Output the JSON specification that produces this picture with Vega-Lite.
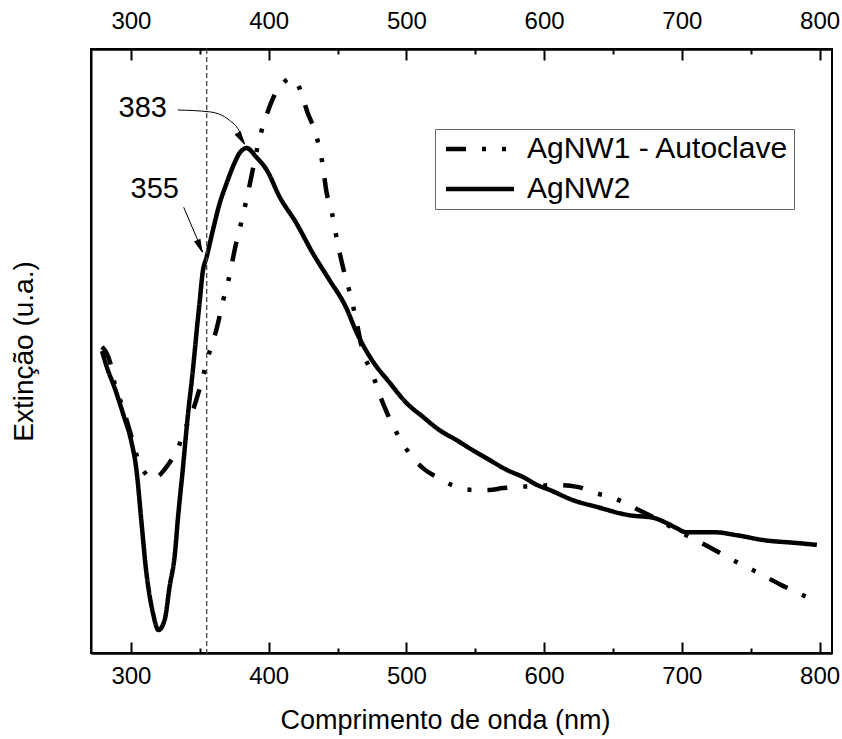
{
  "$schema": "https://vega.github.io/schema/vega-lite/v6.json",
  "width": 741,
  "height": 604,
  "autosize": "none",
  "padding": {"left": 91, "top": 49, "right": 10, "bottom": 86},
  "config": {
    "font": "Liberation Sans",
    "view": {"stroke": "black", "strokeWidth": 2}
  },
  "datasets": {
    "curves": [
      {"wl": 279, "ext": 0.507, "series": "AgNW1 - Autoclave"},
      {"wl": 285, "ext": 0.480, "series": "AgNW1 - Autoclave"},
      {"wl": 288, "ext": 0.447, "series": "AgNW1 - Autoclave"},
      {"wl": 294, "ext": 0.407, "series": "AgNW1 - Autoclave"},
      {"wl": 301, "ext": 0.353, "series": "AgNW1 - Autoclave"},
      {"wl": 306, "ext": 0.315, "series": "AgNW1 - Autoclave"},
      {"wl": 311, "ext": 0.296, "series": "AgNW1 - Autoclave"},
      {"wl": 315, "ext": 0.288, "series": "AgNW1 - Autoclave"},
      {"wl": 320, "ext": 0.293, "series": "AgNW1 - Autoclave"},
      {"wl": 328, "ext": 0.315, "series": "AgNW1 - Autoclave"},
      {"wl": 333, "ext": 0.333, "series": "AgNW1 - Autoclave"},
      {"wl": 339, "ext": 0.369, "series": "AgNW1 - Autoclave"},
      {"wl": 345, "ext": 0.402, "series": "AgNW1 - Autoclave"},
      {"wl": 351, "ext": 0.447, "series": "AgNW1 - Autoclave"},
      {"wl": 357, "ext": 0.498, "series": "AgNW1 - Autoclave"},
      {"wl": 362, "ext": 0.535, "series": "AgNW1 - Autoclave"},
      {"wl": 367, "ext": 0.584, "series": "AgNW1 - Autoclave"},
      {"wl": 372, "ext": 0.629, "series": "AgNW1 - Autoclave"},
      {"wl": 375, "ext": 0.664, "series": "AgNW1 - Autoclave"},
      {"wl": 380, "ext": 0.712, "series": "AgNW1 - Autoclave"},
      {"wl": 385, "ext": 0.762, "series": "AgNW1 - Autoclave"},
      {"wl": 388, "ext": 0.795, "series": "AgNW1 - Autoclave"},
      {"wl": 393, "ext": 0.849, "series": "AgNW1 - Autoclave"},
      {"wl": 399, "ext": 0.894, "series": "AgNW1 - Autoclave"},
      {"wl": 405, "ext": 0.927, "series": "AgNW1 - Autoclave"},
      {"wl": 411, "ext": 0.945, "series": "AgNW1 - Autoclave"},
      {"wl": 417, "ext": 0.952, "series": "AgNW1 - Autoclave"},
      {"wl": 423, "ext": 0.932, "series": "AgNW1 - Autoclave"},
      {"wl": 428, "ext": 0.896, "series": "AgNW1 - Autoclave"},
      {"wl": 434, "ext": 0.861, "series": "AgNW1 - Autoclave"},
      {"wl": 439, "ext": 0.811, "series": "AgNW1 - Autoclave"},
      {"wl": 442, "ext": 0.763, "series": "AgNW1 - Autoclave"},
      {"wl": 446, "ext": 0.728, "series": "AgNW1 - Autoclave"},
      {"wl": 450, "ext": 0.679, "series": "AgNW1 - Autoclave"},
      {"wl": 455, "ext": 0.629, "series": "AgNW1 - Autoclave"},
      {"wl": 459, "ext": 0.596, "series": "AgNW1 - Autoclave"},
      {"wl": 464, "ext": 0.546, "series": "AgNW1 - Autoclave"},
      {"wl": 468, "ext": 0.502, "series": "AgNW1 - Autoclave"},
      {"wl": 475, "ext": 0.464, "series": "AgNW1 - Autoclave"},
      {"wl": 482, "ext": 0.419, "series": "AgNW1 - Autoclave"},
      {"wl": 491, "ext": 0.373, "series": "AgNW1 - Autoclave"},
      {"wl": 499, "ext": 0.341, "series": "AgNW1 - Autoclave"},
      {"wl": 512, "ext": 0.306, "series": "AgNW1 - Autoclave"},
      {"wl": 523, "ext": 0.290, "series": "AgNW1 - Autoclave"},
      {"wl": 533, "ext": 0.278, "series": "AgNW1 - Autoclave"},
      {"wl": 548, "ext": 0.270, "series": "AgNW1 - Autoclave"},
      {"wl": 560, "ext": 0.270, "series": "AgNW1 - Autoclave"},
      {"wl": 570, "ext": 0.273, "series": "AgNW1 - Autoclave"},
      {"wl": 580, "ext": 0.275, "series": "AgNW1 - Autoclave"},
      {"wl": 592, "ext": 0.276, "series": "AgNW1 - Autoclave"},
      {"wl": 608, "ext": 0.278, "series": "AgNW1 - Autoclave"},
      {"wl": 624, "ext": 0.275, "series": "AgNW1 - Autoclave"},
      {"wl": 637, "ext": 0.265, "series": "AgNW1 - Autoclave"},
      {"wl": 650, "ext": 0.257, "series": "AgNW1 - Autoclave"},
      {"wl": 664, "ext": 0.242, "series": "AgNW1 - Autoclave"},
      {"wl": 679, "ext": 0.225, "series": "AgNW1 - Autoclave"},
      {"wl": 699, "ext": 0.200, "series": "AgNW1 - Autoclave"},
      {"wl": 717, "ext": 0.179, "series": "AgNW1 - Autoclave"},
      {"wl": 737, "ext": 0.154, "series": "AgNW1 - Autoclave"},
      {"wl": 757, "ext": 0.131, "series": "AgNW1 - Autoclave"},
      {"wl": 771, "ext": 0.114, "series": "AgNW1 - Autoclave"},
      {"wl": 792, "ext": 0.091, "series": "AgNW1 - Autoclave"},
      {"wl": 799, "ext": 0.083, "series": "AgNW1 - Autoclave"},
      {"wl": 279, "ext": 0.500, "series": "AgNW2"},
      {"wl": 283, "ext": 0.470, "series": "AgNW2"},
      {"wl": 288, "ext": 0.440, "series": "AgNW2"},
      {"wl": 295, "ext": 0.391, "series": "AgNW2"},
      {"wl": 300, "ext": 0.353, "series": "AgNW2"},
      {"wl": 304, "ext": 0.303, "series": "AgNW2"},
      {"wl": 307.5, "ext": 0.220, "series": "AgNW2"},
      {"wl": 311, "ext": 0.137, "series": "AgNW2"},
      {"wl": 316, "ext": 0.066, "series": "AgNW2"},
      {"wl": 320, "ext": 0.038, "series": "AgNW2"},
      {"wl": 324.5, "ext": 0.055, "series": "AgNW2"},
      {"wl": 328, "ext": 0.109, "series": "AgNW2"},
      {"wl": 332, "ext": 0.166, "series": "AgNW2"},
      {"wl": 334, "ext": 0.220, "series": "AgNW2"},
      {"wl": 337.6, "ext": 0.303, "series": "AgNW2"},
      {"wl": 341, "ext": 0.386, "series": "AgNW2"},
      {"wl": 345, "ext": 0.469, "series": "AgNW2"},
      {"wl": 348.5, "ext": 0.551, "series": "AgNW2"},
      {"wl": 350, "ext": 0.584, "series": "AgNW2"},
      {"wl": 352, "ext": 0.629, "series": "AgNW2"},
      {"wl": 355, "ext": 0.656, "series": "AgNW2"},
      {"wl": 359.5, "ext": 0.700, "series": "AgNW2"},
      {"wl": 364.5, "ext": 0.745, "series": "AgNW2"},
      {"wl": 369.5, "ext": 0.778, "series": "AgNW2"},
      {"wl": 374, "ext": 0.805, "series": "AgNW2"},
      {"wl": 379, "ext": 0.828, "series": "AgNW2"},
      {"wl": 384, "ext": 0.836, "series": "AgNW2"},
      {"wl": 391, "ext": 0.821, "series": "AgNW2"},
      {"wl": 398.5, "ext": 0.800, "series": "AgNW2"},
      {"wl": 408, "ext": 0.755, "series": "AgNW2"},
      {"wl": 420, "ext": 0.712, "series": "AgNW2"},
      {"wl": 432, "ext": 0.662, "series": "AgNW2"},
      {"wl": 444, "ext": 0.618, "series": "AgNW2"},
      {"wl": 456, "ext": 0.573, "series": "AgNW2"},
      {"wl": 464, "ext": 0.530, "series": "AgNW2"},
      {"wl": 475, "ext": 0.485, "series": "AgNW2"},
      {"wl": 488, "ext": 0.447, "series": "AgNW2"},
      {"wl": 500, "ext": 0.414, "series": "AgNW2"},
      {"wl": 512, "ext": 0.391, "series": "AgNW2"},
      {"wl": 524, "ext": 0.369, "series": "AgNW2"},
      {"wl": 536, "ext": 0.353, "series": "AgNW2"},
      {"wl": 548, "ext": 0.336, "series": "AgNW2"},
      {"wl": 560, "ext": 0.320, "series": "AgNW2"},
      {"wl": 573, "ext": 0.303, "series": "AgNW2"},
      {"wl": 585, "ext": 0.291, "series": "AgNW2"},
      {"wl": 595, "ext": 0.278, "series": "AgNW2"},
      {"wl": 604, "ext": 0.270, "series": "AgNW2"},
      {"wl": 621, "ext": 0.253, "series": "AgNW2"},
      {"wl": 638, "ext": 0.242, "series": "AgNW2"},
      {"wl": 662, "ext": 0.228, "series": "AgNW2"},
      {"wl": 679, "ext": 0.224, "series": "AgNW2"},
      {"wl": 689, "ext": 0.215, "series": "AgNW2"},
      {"wl": 696, "ext": 0.207, "series": "AgNW2"},
      {"wl": 703, "ext": 0.200, "series": "AgNW2"},
      {"wl": 723, "ext": 0.200, "series": "AgNW2"},
      {"wl": 740, "ext": 0.195, "series": "AgNW2"},
      {"wl": 759, "ext": 0.187, "series": "AgNW2"},
      {"wl": 784, "ext": 0.182, "series": "AgNW2"},
      {"wl": 798, "ext": 0.179, "series": "AgNW2"}
    ],
    "marker": [{"wl": 355}],
    "arrows": [
      {"arrow": "a383", "step": 1, "wl": 334, "ext": 0.899},
      {"arrow": "a383", "step": 2, "wl": 357, "ext": 0.896},
      {"arrow": "a383", "step": 3, "wl": 371.5, "ext": 0.882},
      {"arrow": "a383", "step": 4, "wl": 378.5, "ext": 0.865},
      {"arrow": "a383", "step": 5, "wl": 382.6, "ext": 0.843},
      {"arrow": "a355", "step": 1, "wl": 338.3, "ext": 0.738},
      {"arrow": "a355", "step": 2, "wl": 352.1, "ext": 0.664}
    ],
    "tip383": [{"wl": 382.6, "ext": 0.841}],
    "tip355": [{"wl": 352.1, "ext": 0.662}],
    "labels": [
      {"label": "383", "wl": 308.6, "ext": 0.902},
      {"label": "355", "wl": 317.3, "ext": 0.768}
    ]
  },
  "layer": [
    {
      "data": {"name": "curves"},
      "mark": {"type": "line", "strokeWidth": 4.5, "color": "black", "strokeCap": "butt", "interpolate": "monotone"},
      "encoding": {
        "x": {
          "field": "wl", "type": "quantitative",
          "scale": {"domain": [271, 809], "nice": false, "zero": false},
          "axis": {
            "orient": "bottom",
            "grid": false,
            "domainColor": "black",
            "domainWidth": 2,
            "title": "Comprimento de onda (nm)",
            "titleFontSize": 27,
            "titleFontWeight": "normal",
            "titleColor": "black",
            "titlePadding": 19,
            "titleX": 354,
            "values": [300, 400, 500, 600, 700, 800],
            "labelFontSize": 24,
            "labelColor": "black",
            "labelPadding": 22,
            "tickColor": "black",
            "tickWidth": 2,
            "tickSize": -11
          }
        },
        "y": {
          "field": "ext", "type": "quantitative",
          "scale": {"domain": [0, 1], "nice": false},
          "axis": {
            "title": "Extinção (u.a.)",
            "titleFontSize": 28,
            "titleFontWeight": "normal",
            "titleColor": "black",
            "titlePadding": 53,
            "grid": false,
            "domainColor": "black",
            "domainWidth": 2,
            "labels": false,
            "ticks": false
          }
        },
        "strokeDash": {
          "field": "series", "type": "nominal",
          "scale": {"domain": ["AgNW1 - Autoclave", "AgNW2"], "range": [[20, 16, 4, 16, 4, 16], [1, 0]]},
          "legend": {
            "title": null,
            "orient": "none",
            "legendX": 344,
            "legendY": 80,
            "symbolType": "M-4,0L4,0",
            "symbolSize": 289,
            "symbolOffset": 25,
            "symbolStrokeWidth": 4.5,
            "symbolStrokeColor": "black",
            "symbolFillColor": "transparent",
            "labelFontSize": 30,
            "labelColor": "black",
            "labelOffset": 32,
            "labelLimit": 0,
            "rowPadding": 10,
            "padding": 5,
            "strokeColor": "#666",
            "fillColor": "white"
          }
        },
        "order": {"field": "wl", "type": "quantitative"}
      }
    },
    {
      "data": {"name": "marker"},
      "mark": {"type": "rule", "color": "#444", "strokeWidth": 1.3, "strokeDash": [5, 3]},
      "encoding": {
        "x": {
          "field": "wl", "type": "quantitative",
          "axis": {
            "orient": "top",
            "grid": false,
            "domainColor": "black",
            "domainWidth": 2,
            "title": null,
            "values": [300, 400, 500, 600, 700, 800],
            "labelFontSize": 24,
            "labelColor": "black",
            "labelPadding": 27,
            "tickColor": "black",
            "tickWidth": 2,
            "tickSize": -11
          }
        }
      }
    },
    {
      "data": {"name": "arrows"},
      "mark": {"type": "line", "color": "black", "strokeWidth": 1, "interpolate": "monotone"},
      "encoding": {
        "x": {
          "field": "wl", "type": "quantitative",
          "axis": {"orient": "bottom", "grid": false, "domainColor": "black", "domainWidth": 2, "title": null, "labels": false, "tickColor": "black", "values": [350, 450, 550, 650, 750], "tickWidth": 2, "tickSize": -5}
        },
        "y": {"field": "ext", "type": "quantitative", "axis": null},
        "detail": {"field": "arrow"},
        "order": {"field": "step", "type": "quantitative"}
      }
    },
    {
      "data": {"name": "tip383"},
      "mark": {"type": "point", "shape": "M0,0L-0.25,-1L0.25,-1Z", "size": 800, "filled": true, "color": "black", "opacity": 1, "angle": 330},
      "encoding": {
        "x": {
          "field": "wl", "type": "quantitative",
          "axis": {"orient": "top", "grid": false, "domainColor": "black", "domainWidth": 2, "title": null, "labels": false, "tickColor": "black", "values": [350, 450, 550, 650, 750], "tickWidth": 2, "tickSize": -5}
        },
        "y": {"field": "ext", "type": "quantitative", "axis": null}
      }
    },
    {
      "data": {"name": "tip355"},
      "mark": {"type": "point", "shape": "M0,0L-0.25,-1L0.25,-1Z", "size": 800, "filled": true, "color": "black", "opacity": 1, "angle": 337},
      "encoding": {
        "x": {"field": "wl", "type": "quantitative", "axis": null},
        "y": {"field": "ext", "type": "quantitative", "axis": null}
      }
    },
    {
      "data": {"name": "labels"},
      "mark": {"type": "text", "fontSize": 29, "color": "black", "align": "center", "baseline": "middle"},
      "encoding": {
        "x": {"field": "wl", "type": "quantitative", "axis": null},
        "y": {"field": "ext", "type": "quantitative", "axis": null},
        "text": {"field": "label"}
      }
    }
  ],
  "resolve": {"axis": {"x": "independent", "y": "independent"}}
}
